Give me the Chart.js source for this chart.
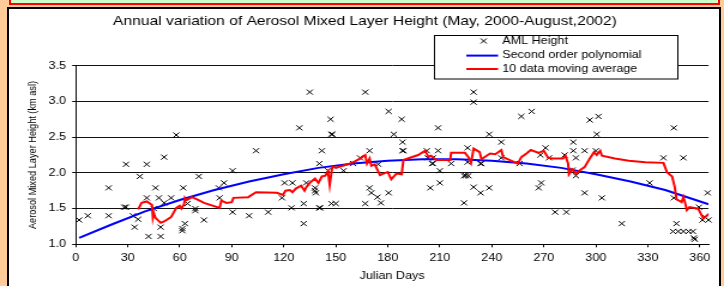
<!DOCTYPE html>
<html>
<head>
<meta charset="utf-8">
<title>Annual variation of Aerosol Mixed Layer Height</title>
<script src="https://cdn.jsdelivr.net/npm/chart.js@4.4.1/dist/chart.umd.min.js"></script>
<style>
  html, body { margin: 0; padding: 0; }
  body { width: 724px; height: 286px; overflow: hidden; background: #ffcc99; position: relative; }
  #banda { position: absolute; left: 9px; top: -12px; width: 707px; height: 13px; background: #ccffcc; border: 2px solid #ff0000; }
  #panel { position: absolute; left: 7px; top: 7px; width: 710px; height: 290px; background: #fff; border: 2px solid #000; }
  #grafico { position: absolute; left: 0; top: 0; }
</style>
</head>
<body>
<div id="banda"></div>
<div id="panel"></div>
<!-- el lienzo se dibuja a 604 px y se estira a 724 px, como el original -->
<canvas id="grafico" width="604" height="286" style="width:724px;height:286px"></canvas>
<script>
// Datos
const amlDias = [
  2, 7, 19, 19, 28, 29, 29, 33, 34, 36, 37, 41, 41, 42, 45, 46, 48, 49, 49, 51, 51, 55, 58,
  62, 61.5, 61.5, 63, 64.5, 69, 69, 71, 74, 82.5, 83, 85.5, 90.5, 90.5, 100, 104, 111, 119, 120.5,
  125, 124.5, 129, 131.5, 131.5, 133, 135, 138, 138, 138.5, 140.5, 140.5, 141, 142, 145.5, 147, 147.5, 148, 147.5, 150, 154.5,
  160, 164, 167, 167, 169.5, 169.5, 170.5, 174, 174.5, 176, 180.5, 180.5,
  183.5, 188, 188.5, 188.5, 189, 202.5, 203, 204.5, 205.5, 206, 206, 209, 209, 210, 210, 216.5, 224, 225, 224,
  226, 226, 226.5, 229.5, 229.5, 229.5, 233.5, 234, 233.5, 238.5, 238.5,
  245.5, 245.5, 256, 257, 263, 267, 268, 268.5, 271, 273, 276.5, 282, 283, 286.5, 287, 287, 288.5, 288.5,
  293.5, 293.5, 296.5, 300, 300.5, 301.5,
  303.5, 315, 331, 339, 344.5, 345, 345, 346.5, 347.5, 350.5, 350.5, 353.5, 356, 356.5, 357, 359.5, 361.5, 365, 364.5, 363
];
const amlAltura = [
  1.34, 1.40, 1.40, 1.79, 1.52, 1.52, 2.12, 1.40, 1.24, 1.35, 1.95, 2.12, 1.65, 1.11, 1.50, 1.79, 1.65, 1.24, 1.11, 2.22, 1.58, 1.65, 2.53,
  1.79, 1.22, 1.19, 1.29, 1.57, 1.50, 1.47, 1.95, 1.34, 1.79, 1.65, 1.86, 2.03, 1.45, 1.40, 2.31, 1.45, 1.65, 1.86,
  1.86, 1.51, 2.63, 1.57, 1.29, 1.86, 3.13, 1.79, 1.75, 1.72, 2.13, 1.51, 1.51, 2.31, 2.03, 2.75, 2.54, 2.54, 1.57, 1.57, 2.03,
  2.13, 2.21, 1.57, 3.13, 2.31, 1.79, 1.72, 1.66, 2.12, 1.58, 2.86, 1.72,
  2.54, 2.75, 2.43, 2.31, 2.31, 2.31, 2.21, 1.79, 2.13, 2.13, 2.21, 2.31, 2.63, 2.03, 1.86, 2.13, 1.96, 1.96, 1.58,
  2.35, 2.15, 1.96, 1.80, 3.13, 2.99, 2.13, 2.13, 1.72, 2.54, 1.79,
  2.43, 2.21, 2.13, 2.79, 2.86, 1.79, 2.25, 1.86, 2.35, 2.21, 1.45, 2.25, 1.45, 2.04, 2.43, 2.31, 2.21, 1.96,
  2.31, 1.72, 2.74, 2.31, 2.54, 2.79,
  1.65, 1.29, 1.86, 2.21, 1.18, 2.63, 1.65, 1.29, 1.18, 2.21, 1.18, 1.18, 1.18, 1.09, 1.07, 1.52, 1.34, 1.34, 1.72, 1.38
];

const polyDias = [2, 20, 40, 60, 80, 100, 120, 140, 160, 180, 200, 220, 240, 260, 280, 300, 320, 340, 365];
const polyAltura = [1.09, 1.27, 1.46, 1.62, 1.76, 1.88, 1.98, 2.07, 2.13, 2.17, 2.19, 2.19, 2.17, 2.13, 2.07, 1.98, 1.88, 1.76, 1.56];

// Media movil de 10 datos (curva roja)
const mediaDias = [
  36, 38, 41, 44, 44.5, 45, 46, 49, 51, 55, 58, 60, 61, 62.5, 63, 64, 67, 70, 74, 83, 84, 87, 90, 91, 99.5, 104,
  116, 119.5, 121, 123.5, 125, 127, 130, 132, 133, 135, 138, 140, 142, 144, 145.5, 146.5, 148, 150, 154, 157,
  161, 164, 167, 168, 169.5, 170.5, 172.5, 175.5, 177.5, 180, 182, 185, 188, 189, 197.5, 201.5, 203.5, 205, 208,
  216, 216.5, 224.5, 226.5, 228, 229.5, 233, 234, 237, 239, 242, 245.5, 246.5, 255, 257, 260, 262.5, 267, 270,
  272.5, 275, 281, 282.5, 284, 284.5, 286.5, 288.5, 291, 293.5, 296.5, 299, 300.5, 302.5, 303.5, 311, 319, 328.5,
  339, 341, 344, 345.5, 346.5, 349.5, 350.5, 351.5, 352.5, 354, 359, 362, 364.5, 365
];
const mediaAltura = [
  1.49, 1.58, 1.60, 1.55, 1.38, 1.44, 1.37, 1.30, 1.32, 1.38, 1.51, 1.54, 1.50, 1.56, 1.65, 1.62, 1.66, 1.63, 1.58, 1.51, 1.61, 1.58, 1.59, 1.65, 1.66, 1.73,
  1.72, 1.69, 1.75, 1.76, 1.73, 1.78, 1.82, 1.75, 1.80, 1.86, 1.92, 1.86, 1.95, 1.96, 2.02, 1.83, 2.09, 2.07, 2.10, 2.12,
  2.16, 2.20, 2.25, 2.13, 2.20, 2.10, 2.12, 1.97, 1.99, 2.01, 1.91, 1.99, 1.98, 2.18, 2.25, 2.31, 2.22, 2.24, 2.18,
  2.18, 2.28, 2.28, 2.22, 2.14, 2.34, 2.29, 2.19, 2.24, 2.27, 2.26, 2.32, 2.22, 2.13, 2.22, 2.27, 2.32, 2.28, 2.31,
  2.21, 2.20, 2.20, 2.24, 2.13, 1.98, 2.05, 1.99, 2.04, 2.08, 2.20, 2.29, 2.25, 2.31, 2.24, 2.20, 2.17, 2.15,
  2.14, 2.01, 1.95, 1.80, 1.63, 1.59, 1.66, 1.58, 1.48, 1.52, 1.50, 1.36, 1.41, 1.43
];

// marcas del eje x
const diasEje = [0, 30, 60, 90, 120, 150, 180, 210, 240, 270, 300, 330, 360];

const fuente = "'Liberation Sans', Arial, sans-serif";

function puntos(xs, ys) {
  return xs.map((x, i) => ({ x: x, y: ys[i] }));
}

// leyenda propia, dentro del area del grafico y arriba a la derecha
const leyenda = {
  id: "leyenda",
  afterDraw(chart) {
    const ctx = chart.ctx;
    const sets = chart.data.datasets;
    ctx.save();
    ctx.fillStyle = "#fff";
    ctx.fillRect(362, 35.5, 203.5, 43.5);
    ctx.strokeStyle = "#000";
    ctx.lineWidth = 1;
    ctx.strokeRect(362.5, 35.5, 203, 43.5);

    const filas = [41, 55.6, 69];
    ctx.font = "10.5px " + fuente;
    ctx.textBaseline = "middle";
    ctx.textAlign = "left";
    sets.forEach((ds, i) => {
      const y = filas[i];
      if (i === 0) {
        Chart.helpers.drawPoint(ctx, { pointStyle: "crossRot", radius: 3.6, borderWidth: 1 }, 403.5, y);
      } else {
        ctx.beginPath();
        ctx.strokeStyle = ds.borderColor;
        ctx.lineWidth = 2;
        ctx.moveTo(389, y);
        ctx.lineTo(415.5, y);
        ctx.stroke();
      }
      ctx.fillStyle = "#000";
      ctx.fillText(ds.label, 419, y);
    });
    ctx.restore();
  }
};

new Chart(document.getElementById("grafico"), {
  type: "scatter",
  data: {
    datasets: [
      {
        label: "AML Height",
        data: puntos(amlDias, amlAltura),
        pointStyle: "crossRot",
        pointRadius: 3.6,
        borderColor: "#000",
        backgroundColor: "#000",
        borderWidth: 1,
        clip: false,
        order: 3
      },
      {
        label: "Second order polynomial",
        data: puntos(polyDias, polyAltura),
        showLine: true,
        borderColor: "#0000ff",
        borderWidth: 2,
        pointRadius: 0,
        tension: 0,
        order: 2
      },
      {
        label: "10 data moving average",
        data: puntos(mediaDias, mediaAltura),
        showLine: true,
        borderColor: "#ff0000",
        borderWidth: 2,
        pointRadius: 0,
        tension: 0,
        order: 1
      }
    ]
  },
  options: {
    responsive: false,
    animation: false,
    devicePixelRatio: 1,
    layout: { padding: { left: 7, right: 2, top: 8, bottom: 0 } },
    plugins: {
      legend: { display: false },
      tooltip: { enabled: false },
      title: {
        display: true,
        text: "Annual variation of Aerosol Mixed Layer Height (May, 2000-August,2002)",
        color: "#000",
        font: { family: fuente, size: 13, weight: "normal" },
        padding: { top: 6, bottom: 36.1 }
      }
    },
    scales: {
      x: {
        type: "linear",
        min: 0,
        max: 365,
        ticks: { padding: 5, maxRotation: 0, color: "#000", font: { family: fuente, size: 10.5 } },
        afterBuildTicks: (eje) => { eje.ticks = diasEje.map(v => ({ value: v })); },
        grid: { drawOnChartArea: false, drawTicks: true, tickLength: 3, color: "#000" },
        border: { color: "#000", width: 1 },
        title: {
          display: true,
          text: "Julian Days",
          color: "#000",
          font: { family: fuente, size: 10.5 },
          padding: { top: 0, bottom: 4 }
        },
        afterFit: (eje) => { eje.height = 41.7; }
      },
      y: {
        min: 1,
        max: 3.5,
        ticks: { stepSize: 0.5, padding: 5, color: "#000", font: { family: fuente, size: 10.5 } },
        grid: { color: "#111", lineWidth: 1, tickLength: 3 },
        border: { color: "#000", width: 1 },
        title: {
          display: true,
          text: "Aerosol Mixed Layer Height (km asl)",
          color: "#000",
          font: { family: fuente, size: 9.2 },
          padding: { top: 15, bottom: 0 }
        },
        afterFit: (eje) => { eje.width = 56.15; }
      },
      // eje vacio a la derecha, solo para dejar el hueco del original
      yDer: {
        position: "right",
        display: true,
        grid: { display: false },
        ticks: { display: false },
        border: { display: false },
        afterFit: (eje) => { eje.width = 10.9; }
      }
    }
  },
  plugins: [leyenda]
});
</script>
</body>
</html>
